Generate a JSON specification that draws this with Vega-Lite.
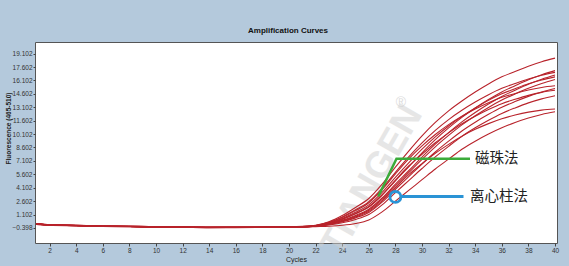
{
  "$schema": "https://vega.github.io/schema/vega-lite/v6.json",
  "width": 522,
  "height": 201,
  "autosize": {"type": "none"},
  "padding": {"left": 35, "top": 42, "right": 12, "bottom": 23},
  "background": "#b4c9dc",
  "title": {"text": "Amplification Curves", "font": "Liberation Sans", "fontSize": 8, "fontWeight": "bold", "color": "#111111", "anchor": "middle", "offset": 7, "dx": -8},
  "config": {
    "view": {"fill": "white", "stroke": "#555555", "strokeWidth": 1},
    "axis": {"grid": false, "domain": false, "tickColor": "#444444", "labelColor": "#333333", "labelFont": "Liberation Sans", "labelFontSize": 6.5, "titleFont": "Liberation Sans", "titleColor": "#222222"}
  },
  "datasets": {
    "curves": [
      {"c":1,"k1":0.08,"k2":0.05,"k3":0.1,"k4":0.03,"k5":0.06,"k6":0.0,"k7":0.09,"k8":0.04,"k9":0.07,"k10":0.02,"k11":0.05,"k12":0.0},
      {"c":2,"k1":-0.03,"k2":-0.06,"k3":-0.02,"k4":-0.07,"k5":-0.05,"k6":-0.08,"k7":-0.04,"k8":-0.06,"k9":-0.05,"k10":-0.09,"k11":-0.06,"k12":-0.08},
      {"c":4,"k1":-0.1,"k2":-0.13,"k3":-0.11,"k4":-0.14,"k5":-0.12,"k6":-0.15,"k7":-0.1,"k8":-0.13,"k9":-0.12,"k10":-0.16,"k11":-0.13,"k12":-0.14},
      {"c":6,"k1":-0.18,"k2":-0.21,"k3":-0.19,"k4":-0.22,"k5":-0.2,"k6":-0.23,"k7":-0.18,"k8":-0.21,"k9":-0.2,"k10":-0.24,"k11":-0.21,"k12":-0.22},
      {"c":8,"k1":-0.2,"k2":-0.23,"k3":-0.21,"k4":-0.24,"k5":-0.22,"k6":-0.25,"k7":-0.2,"k8":-0.23,"k9":-0.22,"k10":-0.26,"k11":-0.23,"k12":-0.24},
      {"c":10,"k1":-0.26,"k2":-0.29,"k3":-0.27,"k4":-0.3,"k5":-0.28,"k6":-0.31,"k7":-0.26,"k8":-0.29,"k9":-0.28,"k10":-0.32,"k11":-0.29,"k12":-0.3},
      {"c":12,"k1":-0.28,"k2":-0.31,"k3":-0.29,"k4":-0.32,"k5":-0.3,"k6":-0.33,"k7":-0.28,"k8":-0.31,"k9":-0.3,"k10":-0.34,"k11":-0.31,"k12":-0.32},
      {"c":14,"k1":-0.31,"k2":-0.34,"k3":-0.32,"k4":-0.35,"k5":-0.33,"k6":-0.36,"k7":-0.31,"k8":-0.34,"k9":-0.33,"k10":-0.37,"k11":-0.34,"k12":-0.35},
      {"c":16,"k1":-0.31,"k2":-0.33,"k3":-0.32,"k4":-0.34,"k5":-0.33,"k6":-0.35,"k7":-0.31,"k8":-0.33,"k9":-0.32,"k10":-0.36,"k11":-0.34,"k12":-0.35},
      {"c":18,"k1":-0.3,"k2":-0.32,"k3":-0.31,"k4":-0.33,"k5":-0.31,"k6":-0.34,"k7":-0.3,"k8":-0.32,"k9":-0.31,"k10":-0.35,"k11":-0.33,"k12":-0.34},
      {"c":20,"k1":-0.27,"k2":-0.3,"k3":-0.28,"k4":-0.31,"k5":-0.29,"k6":-0.32,"k7":-0.27,"k8":-0.3,"k9":-0.29,"k10":-0.33,"k11":-0.31,"k12":-0.32},
      {"c":21,"k1":-0.22,"k2":-0.26,"k3":-0.23,"k4":-0.28,"k5":-0.25,"k6":-0.29,"k7":-0.23,"k8":-0.27,"k9":-0.26,"k10":-0.3,"k11":-0.28,"k12":-0.3},
      {"c":22,"k1":-0.1,"k2":-0.16,"k3":-0.12,"k4":-0.17,"k5":-0.15,"k6":-0.18,"k7":-0.13,"k8":-0.2,"k9":-0.16,"k10":-0.21,"k11":-0.19,"k12":-0.25},
      {"c":23,"k1":0.3,"k2":0.1,"k3":0.23,"k4":0.05,"k5":0.15,"k6":0.03,"k7":0.2,"k8":-0.02,"k9":0.12,"k10":-0.07,"k11":0.0,"k12":-0.2},
      {"c":24,"k1":1.0,"k2":0.56,"k3":0.84,"k4":0.45,"k5":0.67,"k6":0.4,"k7":0.78,"k8":0.29,"k9":0.6,"k10":0.18,"k11":0.34,"k12":-0.1},
      {"c":25,"k1":1.9,"k2":1.18,"k3":1.63,"k4":1.0,"k5":1.36,"k6":0.91,"k7":1.54,"k8":0.73,"k9":1.22,"k10":0.55,"k11":0.82,"k12":0.1},
      {"c":26,"k1":2.9,"k2":1.94,"k3":2.54,"k4":1.7,"k5":2.18,"k6":1.58,"k7":2.42,"k8":1.34,"k9":2.0,"k10":1.1,"k11":1.46,"k12":0.5},
      {"c":27,"k1":4.5,"k2":3.26,"k3":4.04,"k4":2.95,"k5":3.57,"k6":2.8,"k7":3.88,"k8":2.49,"k9":3.33,"k10":2.18,"k11":2.64,"k12":1.4},
      {"c":28,"k1":6.4,"k2":4.88,"k3":5.83,"k4":4.5,"k5":5.26,"k6":4.31,"k7":5.64,"k8":3.93,"k9":4.96,"k10":3.55,"k11":4.12,"k12":2.6},
      {"c":29,"k1":8.2,"k2":6.44,"k3":7.54,"k4":6.0,"k5":6.88,"k6":5.78,"k7":7.32,"k8":5.34,"k9":6.53,"k10":4.9,"k11":5.56,"k12":3.8},
      {"c":30,"k1":9.9,"k2":8.01,"k3":9.11,"k4":7.53,"k5":8.41,"k6":7.27,"k7":8.78,"k8":6.75,"k9":7.85,"k10":6.25,"k11":6.8,"k12":5.0},
      {"c":31,"k1":11.4,"k2":9.48,"k3":10.51,"k4":8.97,"k5":9.79,"k6":8.68,"k7":10.06,"k8":8.1,"k9":9.13,"k10":7.55,"k11":7.95,"k12":6.2},
      {"c":32,"k1":12.7,"k2":10.79,"k3":11.72,"k4":10.27,"k5":11.0,"k6":9.95,"k7":11.16,"k8":9.31,"k9":10.24,"k10":8.73,"k11":8.95,"k12":7.3},
      {"c":33,"k1":13.8,"k2":11.97,"k3":12.76,"k4":11.46,"k5":12.08,"k6":11.13,"k7":12.1,"k8":10.45,"k9":11.25,"k10":9.85,"k11":9.87,"k12":8.4},
      {"c":34,"k1":14.8,"k2":13.02,"k3":13.68,"k4":12.51,"k5":13.02,"k6":12.15,"k7":12.91,"k8":11.43,"k9":12.1,"k10":10.8,"k11":10.63,"k12":9.3},
      {"c":35,"k1":15.7,"k2":13.97,"k3":14.5,"k4":13.46,"k5":13.87,"k6":13.08,"k7":13.61,"k8":12.31,"k9":12.85,"k10":11.65,"k11":11.27,"k12":10.1},
      {"c":36,"k1":16.5,"k2":14.82,"k3":15.22,"k4":14.31,"k5":14.61,"k6":13.91,"k7":14.21,"k8":13.1,"k9":13.5,"k10":12.41,"k11":11.81,"k12":10.8},
      {"c":37,"k1":17.1,"k2":15.51,"k3":15.76,"k4":15.01,"k5":15.18,"k6":14.59,"k7":14.64,"k8":13.74,"k9":13.99,"k10":13.03,"k11":12.23,"k12":11.4},
      {"c":38,"k1":17.7,"k2":16.17,"k3":16.27,"k4":15.67,"k5":15.72,"k6":15.22,"k7":15.04,"k8":14.32,"k9":14.43,"k10":13.59,"k11":12.56,"k12":11.9},
      {"c":39,"k1":18.2,"k2":16.74,"k3":16.69,"k4":16.23,"k5":16.16,"k6":15.76,"k7":15.32,"k8":14.81,"k9":14.77,"k10":14.04,"k11":12.78,"k12":12.3},
      {"c":40,"k1":18.6,"k2":17.2,"k3":17.0,"k4":16.7,"k5":16.5,"k6":16.2,"k7":15.5,"k8":15.2,"k9":15.0,"k10":14.4,"k11":12.9,"k12":12.6}
    ],
    "green": [
      {"x": 26.71, "y": 3.12, "o": 1},
      {"x": 28.08, "y": 7.34, "o": 2},
      {"x": 33.61, "y": 7.34, "o": 3}
    ],
    "blue": [
      {"x": 28.46, "y": 3.12, "o": 1},
      {"x": 33.12, "y": 3.12, "o": 2}
    ],
    "circle": [{"x": 28.0, "y": 3.07}],
    "labels": [
      {"x": 33.98, "y": 7.34, "t": "磁珠法"},
      {"x": 33.61, "y": 3.12, "t": "离心柱法"}
    ],
    "mark": [
      {"x": 26.24, "y": 4.91, "t": "TIANGEN"}
    ],
    "reg": [{"x": 28.42, "y": 13.54, "t": "®"}]
  },
  "encoding": {
    "x": {"field": "x", "type": "quantitative", "scale": {"domain": [0.9, 40.15], "nice": false, "zero": false},
      "axis": {"values": [2,4,6,8,10,12,14,16,18,20,22,24,26,28,30,32,34,36,38,40], "format": "d", "title": "Cycles", "titleFontSize": 7, "titleFontWeight": "normal", "titlePadding": 2, "tickSize": 3, "labelPadding": 1}},
    "y": {"field": "y", "type": "quantitative", "scale": {"domain": [-2.08, 20.4], "nice": false, "zero": false},
      "axis": {"values": [-0.398,1.102,2.602,4.102,5.602,7.102,8.602,10.102,11.602,13.102,14.602,16.102,17.602,19.102], "format": ".3f", "title": "Fluorescence (465-510)", "titleFontSize": 6.5, "titleFontWeight": "bold", "titleX": -27, "titleY": 86, "titleAlign": "center", "titleBaseline": "middle", "titleAngle": -90, "tickSize": 2, "labelPadding": 1}}
  },
  "layer": [
    {
      "data": {"name": "mark"},
      "mark": {"type": "text", "font": "Liberation Sans", "fontSize": 37, "fontWeight": "bold", "angle": -60, "color": "#cfcfcf", "opacity": 0.5, "align": "center", "baseline": "middle", "clip": false},
      "encoding": {"text": {"field": "t"}}
    },
    {
      "data": {"name": "reg"},
      "mark": {"type": "text", "font": "Liberation Sans", "fontSize": 14, "color": "#cfcfcf", "opacity": 0.7, "align": "center", "baseline": "middle"},
      "encoding": {"text": {"field": "t"}}
    },
    {
      "data": {"name": "curves"},
      "transform": [
        {"fold": ["k1","k2","k3","k4","k5","k6","k7","k8","k9","k10","k11","k12"], "as": ["curve", "value"]}
      ],
      "mark": {"type": "line", "color": "#b8232b", "strokeWidth": 1.1, "interpolate": "monotone"},
      "encoding": {
        "x": {"field": "c", "type": "quantitative"},
        "y": {"field": "value", "type": "quantitative"},
        "detail": {"field": "curve"}
      }
    },
    {
      "data": {"name": "green"},
      "mark": {"type": "line", "color": "#3bab3a", "strokeWidth": 2.5},
      "encoding": {"order": {"field": "o"}}
    },
    {
      "data": {"name": "blue"},
      "mark": {"type": "line", "color": "#2a93d5", "strokeWidth": 3},
      "encoding": {"order": {"field": "o"}}
    },
    {
      "data": {"name": "circle"},
      "mark": {"type": "point", "shape": "circle", "filled": false, "size": 120, "stroke": "#2a93d5", "strokeWidth": 2.8, "opacity": 1},
      "encoding": {}
    },
    {
      "data": {"name": "labels"},
      "mark": {"type": "text", "font": "Noto Sans CJK SC", "fontSize": 14.5, "color": "#222222", "align": "left", "baseline": "middle"},
      "encoding": {"text": {"field": "t"}}
    }
  ]
}
